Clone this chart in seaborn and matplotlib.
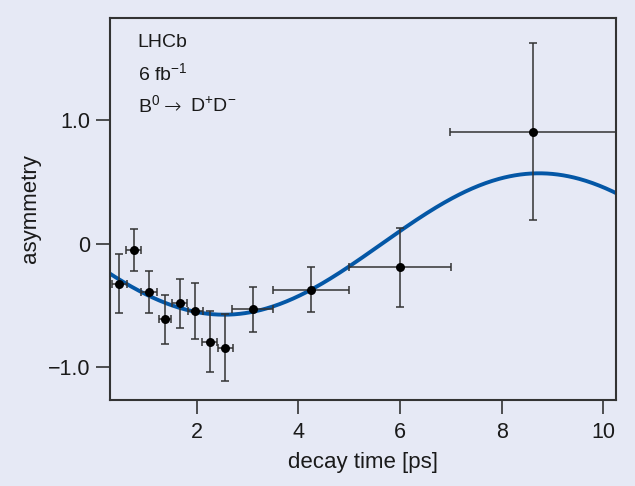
import numpy as np
import pandas as pd
import matplotlib
matplotlib.use("Agg")
import matplotlib.pyplot as plt
import seaborn as sns

# ---- data ----
t_points = [0.47, 0.76, 1.06, 1.37, 1.66, 1.97, 2.25, 2.56, 3.10, 4.25, 6.00, 8.62]
asym     = [-0.32, -0.05, -0.39, -0.61, -0.48, -0.54, -0.79, -0.84, -0.53, -0.37, -0.19, 0.91]
asym_err = [0.235, 0.17, 0.17, 0.20, 0.20, 0.227, 0.25, 0.27, 0.18, 0.18, 0.32, 0.714]
t_err    = [0.15, 0.145, 0.15, 0.12, 0.145, 0.15, 0.14, 0.145, 0.40, 0.75, 1.00, 1.63]

# fit model parameters (CP asymmetry: S sin(dm t) - C cos(dm t))
S_fit = -0.549
C_fit = 0.162
dm = 0.5065

x_ticks = [2, 4, 6, 8, 10]
y_ticks = [-1.0, 0.0, 1.0]
y_ticklabels = ["\u22121.0", "0", "1.0"]
annot_lhcb = "LHCb"
annot_lumi = "6 fb$^{\\mathregular{\u22121}}$"
annot_decay = ["B$^{\\mathregular{0}}$", "\u2192", "D$^{\\mathregular{+}}$D$^{\\mathregular{\u2212}}$"]

bg = "#E6E9F5"
sns.set_theme(style="ticks")
plt.rcParams["font.family"] = ["Liberation Sans", "DejaVu Sans"]
plt.rcParams["mathtext.fontset"] = "custom"
plt.rcParams["mathtext.rm"] = "Liberation Sans"

fig = plt.figure(figsize=(6.35, 4.86), dpi=100, facecolor=bg)
ax = fig.add_axes([0.174, 0.177, 0.796, 0.786])
ax.set_facecolor(bg)

tt = np.linspace(0.0, 10.5, 400)
curve = pd.DataFrame({"t": tt, "A": S_fit * np.sin(dm * tt) - C_fit * np.cos(dm * tt)})
sns.lineplot(data=curve, x="t", y="A", ax=ax, color="#0457A6", lw=2.8, zorder=2)

pts = pd.DataFrame({"t": t_points, "A": asym})
ax.errorbar(t_points, asym, yerr=asym_err, xerr=t_err, fmt="none",
            ecolor="#333333", elinewidth=1.1, capsize=2.7, capthick=1.1, zorder=3)
sns.scatterplot(data=pts, x="t", y="A", ax=ax, color="black", s=42,
                edgecolor="black", linewidth=0, zorder=4)

ax.set_xlim(0.3, 10.25)
ax.set_ylim(-1.263, 1.83)
ax.set_xticks(x_ticks)
ax.set_xticklabels([str(v) for v in x_ticks])
ax.set_yticks(y_ticks)
ax.set_yticklabels(y_ticklabels)
ax.tick_params(axis="both", direction="out", length=10, width=1.2, color="#333333",
               labelsize=15.5, labelcolor="#1a1a1a")
ax.tick_params(axis="x", pad=6)
ax.tick_params(axis="y", pad=4.5)
for s in ax.spines.values():
    s.set_color("#333333")
    s.set_linewidth(1.5)

ax.set_xlabel("decay time [ps]", fontsize=16, color="#1a1a1a", labelpad=6)
ax.set_ylabel("asymmetry", fontsize=16, color="#1a1a1a", labelpad=5)

tc = "#1a1a1a"
fs = 14
ax.text(0.054, 0.935, annot_lhcb, transform=ax.transAxes, fontsize=fs,
        color=tc, ha="left", va="center")
ax.text(0.054, 0.853, annot_lumi, transform=ax.transAxes, fontsize=fs,
        color=tc, ha="left", va="center")
yb = 0.771
ax.text(0.054, yb, annot_decay[0], transform=ax.transAxes, fontsize=fs,
        color=tc, ha="left", va="center")
ax.text(0.105, yb - 0.004, annot_decay[1], transform=ax.transAxes, fontsize=15,
        family="DejaVu Sans", weight="light", color=tc, ha="left", va="center")
ax.text(0.157, yb, annot_decay[2], transform=ax.transAxes, fontsize=fs,
        color=tc, ha="left", va="center")

fig.savefig("out.png", dpi=100, facecolor=bg)
